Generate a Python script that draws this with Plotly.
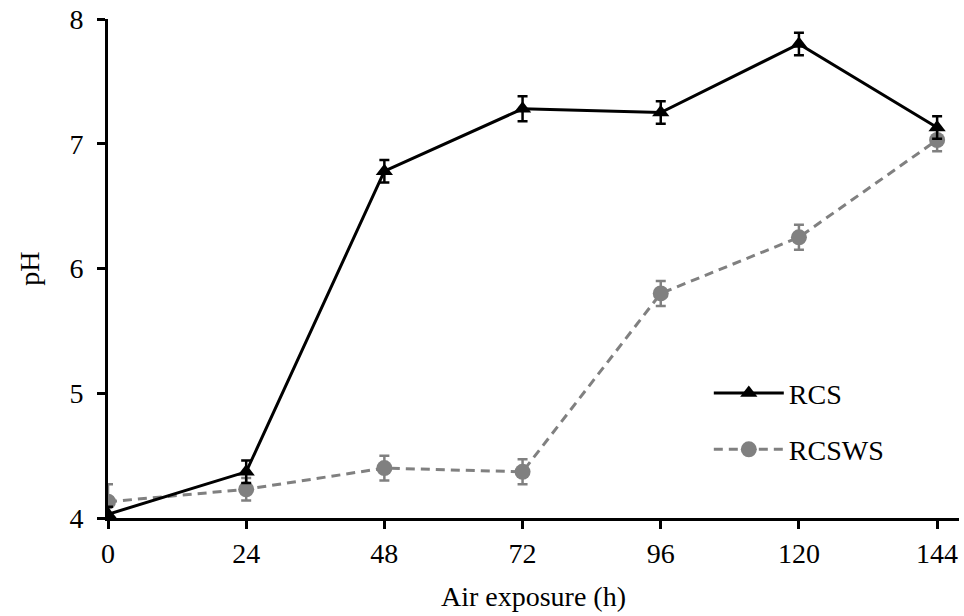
import plotly.graph_objects as go

hours = [0, 24, 48, 72, 96, 120, 144]
rcs = [4.03, 4.37, 6.78, 7.28, 7.25, 7.80, 7.13]
rcs_err = [0.06, 0.09, 0.09, 0.10, 0.09, 0.09, 0.09]
rcsws = [4.13, 4.23, 4.40, 4.37, 5.80, 6.25, 7.03]
rcsws_err = [0.14, 0.09, 0.10, 0.10, 0.10, 0.10, 0.09]
x_ticks = [0, 24, 48, 72, 96, 120, 144]
y_ticks = [4, 5, 6, 7, 8]

font = "Liberation Serif, Times New Roman, serif"
fs = 28

fig = go.Figure()
fig.add_trace(go.Scatter(
    x=hours, y=rcsws, name="RCSWS", mode="lines+markers", legendrank=2, legendgroup="b",
    line=dict(color="#808080", width=3, dash="9px,6px"),
    marker=dict(symbol="circle", size=16, color="#808080"),
    error_y=dict(type="data", array=rcsws_err, visible=True, color="#808080", thickness=2.5, width=5),
))
fig.add_trace(go.Scatter(
    x=hours, y=rcs, name="RCS", mode="lines+markers", legendrank=1, legendgroup="a",
    line=dict(color="black", width=3),
    marker=dict(symbol="triangle-up", size=15, color="black"),
    error_y=dict(type="data", array=rcs_err, visible=True, color="black", thickness=2.5, width=5),
))

fig.update_layout(
    width=964, height=616,
    margin=dict(l=108, r=5, t=19, b=98),
    plot_bgcolor="white", paper_bgcolor="white",
    font=dict(family=font, size=fs, color="black"),
    showlegend=True,
    legend=dict(x=0.706, y=0.194, xanchor="left", yanchor="middle",
                traceorder="grouped", bgcolor="rgba(0,0,0,0)",
                font=dict(family=font, size=fs, color="black"),
                itemwidth=70, tracegroupgap=17),
    xaxis=dict(range=[0, 147.8], tickvals=x_ticks, ticktext=[str(v) for v in x_ticks],
               showline=True, linecolor="black", linewidth=3,
               ticks="outside", ticklen=8, tickwidth=3, tickcolor="black",
               showgrid=False, zeroline=False, automargin=False,
               tickfont=dict(family=font, size=fs),
               title=dict(text="Air exposure (h)", font=dict(family=font, size=fs), standoff=19)),
    yaxis=dict(range=[4, 8], tickvals=y_ticks,
               showline=True, linecolor="black", linewidth=3,
               ticks="outside", ticklen=8, tickwidth=3, tickcolor="black",
               showgrid=False, zeroline=False, automargin=False,
               ticklabelstandoff=8,
               tickfont=dict(family=font, size=fs),
               title=dict(text="pH", font=dict(family=font, size=fs), standoff=22)),
)

fig.write_html("out.html", config={"displayModeBar": False},
               post_script="document.body.style.margin='0';")
